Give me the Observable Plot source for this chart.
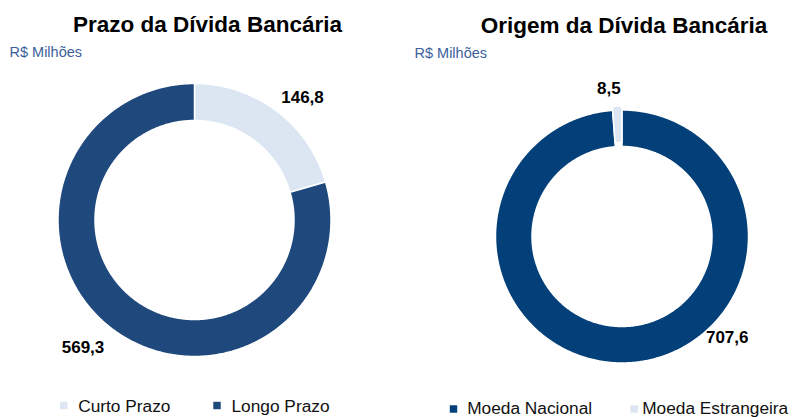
<!DOCTYPE html>
<html><head><meta charset="utf-8">
<script src="https://cdn.jsdelivr.net/npm/d3@7"></script>
<script src="https://cdn.jsdelivr.net/npm/@observablehq/plot@0.6"></script>
<style>
html,body{margin:0;padding:0;background:#fff;}
#chart svg{display:block;}
</style></head><body><div id="chart"></div>
<script>
// ---- data ----
const prazoCategorias = ["Curto Prazo", "Longo Prazo"];
const prazoValores = [146.8, 569.3];
const origemCategorias = ["Moeda Nacional", "Moeda Estrangeira"];
const origemValores = [707.6, 8.5];
const titulos = ["Prazo da Dívida Bancária", "Origem da Dívida Bancária"];
const unidade = "R$ Milhões";

// ---- styles / layout ----
const LIGHT = "#dce6f2", DARK1 = "#1f497d", DARK2 = "#033f78";
const FONT = "'Liberation Sans', Arial, Helvetica, sans-serif";

const donuts = [
  {cats: prazoCategorias, vals: prazoValores, colors: [LIGHT, DARK1],
   cx: 194, cy: 219.5, ro: 136.5, ri: 99.5, explode: [0, 0],
   title: {x: 207, y: 31}, sub: {x: 9, y: 56},
   labels: [{x: 302, y: 102}, {x: 82.5, y: 352}],
   legend: [{sx: 63.3, sy: 405, tx: 77.7, ty: 411.5}, {sx: 216.5, sy: 405, tx: 231, ty: 411.5}]},
  {cats: origemCategorias, vals: origemValores, colors: [DARK2, LIGHT],
   cx: 621.5, cy: 236, ro: 126.5, ri: 90, explode: [0, 4],
   title: {x: 623.5, y: 32}, sub: {x: 414, y: 57},
   labels: [{x: 726.7, y: 342.5}, {x: 608.3, y: 93}],
   legend: [{sx: 453, sy: 408.5, tx: 466.7, ty: 413.5}, {sx: 633.7, sy: 408.5, tx: 641.7, ty: 413.5}]}
];

const fmt = v => v.toFixed(1).replace(".", ",");

const polys = [], labelData = [], titleData = [], subData = [], swatches = [], legendText = [];
donuts.forEach((d, idx) => {
  const arcs = d3.pie().sort(null).value(v => v)(d.vals);
  arcs.forEach((a, i) => {
    const mid = (a.startAngle + a.endAngle) / 2;
    const ox = d.explode[i] * Math.sin(mid), oy = -d.explode[i] * Math.cos(mid);
    const n = Math.max(2, Math.ceil((a.endAngle - a.startAngle) / (Math.PI / 360)));
    const key = idx + "-" + i;
    for (let k = 0; k <= n; k++) {
      const t = a.startAngle + (a.endAngle - a.startAngle) * k / n;
      polys.push({key, fill: d.colors[i], x: d.cx + ox + d.ro * Math.sin(t), y: d.cy + oy - d.ro * Math.cos(t)});
    }
    for (let k = n; k >= 0; k--) {
      const t = a.startAngle + (a.endAngle - a.startAngle) * k / n;
      polys.push({key, fill: d.colors[i], x: d.cx + ox + d.ri * Math.sin(t), y: d.cy + oy - d.ri * Math.cos(t)});
    }
    labelData.push({x: d.labels[i].x, y: d.labels[i].y, text: fmt(d.vals[i])});
    swatches.push({x: d.legend[i].sx, y: d.legend[i].sy, fill: d.colors[i]});
    legendText.push({x: d.legend[i].tx, y: d.legend[i].ty, text: d.cats[i]});
  });
  titleData.push({x: d.title.x, y: d.title.y, text: titulos[idx]});
  subData.push({x: d.sub.x, y: d.sub.y, text: unidade});
});

const chart = Plot.plot({
  width: 792, height: 417,
  marginTop: 0, marginRight: 0, marginBottom: 0, marginLeft: 0,
  x: {type: "identity", axis: null},
  y: {type: "identity", axis: null},
  style: {fontFamily: FONT, background: "#fff", overflow: "visible"},
  marks: [
    Plot.line(polys, {x: "x", y: "y", z: "key", fill: "fill", stroke: "white", strokeWidth: 1.5, curve: "linear-closed"}),
    Plot.text(titleData, {x: "x", y: "y", text: "text", textAnchor: "middle", lineAnchor: "bottom", fontSize: 22.5, fontWeight: "bold", fill: "#000"}),
    Plot.text(subData, {x: "x", y: "y", text: "text", textAnchor: "start", lineAnchor: "bottom", fontSize: 14.5, fill: "#3c5f9c"}),
    Plot.text(labelData, {x: "x", y: "y", text: "text", textAnchor: "middle", lineAnchor: "bottom", fontSize: 17, fontWeight: "bold", fill: "#000"}),
    Plot.dot(swatches, {x: "x", y: "y", fill: "fill", symbol: "square", r: 4.2}),
    Plot.text(legendText, {x: "x", y: "y", text: "text", textAnchor: "start", lineAnchor: "bottom", fontSize: 17.3, fill: "#111"})
  ]
});
document.getElementById("chart").appendChild(chart);
</script>
</body></html>
